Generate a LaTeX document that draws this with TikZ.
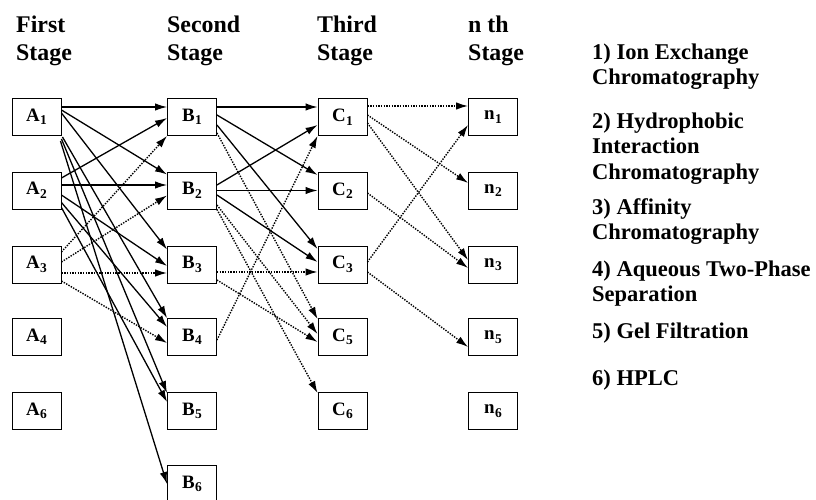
\documentclass[tikz,border=0pt]{standalone}
\usepackage{fontspec}
\setmainfont{Liberation Serif}
\usetikzlibrary{arrows.meta}
% box label: letter with a lowered index digit
\newcommand\stg[2]{#1\kern0.3bp\raisebox{-3.5bp}{\fontsize{13.5}{13.5}\selectfont #2}}

\begin{document}
\begin{tikzpicture}[x=1bp,y=-1bp,
  box/.style={draw, line width=0.9bp, minimum width=49bp, minimum height=37bp,
    inner sep=0pt, font=\fontsize{19}{19}\selectfont\bfseries},
  head/.style={anchor=base west, inner sep=0pt, font=\fontsize{24}{24}\selectfont\bfseries},
  note/.style={anchor=base west, inner sep=0pt, font=\fontsize{22.6}{22.6}\selectfont\bfseries},
  flow/.style={line width=1.3bp, -{Latex[length=12bp,width=7.5bp]}},
  dflow/.style={flow, line width=1.4bp, dash pattern=on 1.4bp off 1.3bp},
]
\useasboundingbox (0,0) rectangle (816,500);

% stage headings
\node[head] (h1a) at (16,33) {First};
\node[head] (h1b) at (16,61) {Stage};
\node[head] (h2a) at (167,33) {Second};
\node[head] (h2b) at (167,61) {Stage};
\node[head] (h3a) at (317,33) {Third};
\node[head] (h3b) at (317,61) {Stage};
\node[head] (h4a) at (468,33) {n th};
\node[head] (h4b) at (468,61) {Stage};

% first stage
\node[box] (A1) at (36.5,117) {\stg{A}{1}};
\node[box] (A2) at (36.5,190.5) {\stg{A}{2}};
\node[box] (A3) at (36.5,264.5) {\stg{A}{3}};
\node[box] (A4) at (36.5,337) {\stg{A}{4}};
\node[box] (A6) at (36.5,411) {\stg{A}{6}};
% second stage
\node[box] (B1) at (192,117) {\stg{B}{1}};
\node[box] (B2) at (192,190.5) {\stg{B}{2}};
\node[box] (B3) at (192,264.5) {\stg{B}{3}};
\node[box] (B4) at (192,337) {\stg{B}{4}};
\node[box] (B5) at (192,411) {\stg{B}{5}};
\node[box] (B6) at (192,484) {\stg{B}{6}};
% third stage
\node[box] (C1) at (342.5,117) {\stg{C}{1}};
\node[box] (C2) at (342.5,190.5) {\stg{C}{2}};
\node[box] (C3) at (342.5,264.5) {\stg{C}{3}};
\node[box] (C5) at (342.5,337) {\stg{C}{5}};
\node[box] (C6) at (342.5,411) {\stg{C}{6}};
% n-th stage
\node[box] (n1) at (493,117) {\stg{n}{1}};
\node[box] (n2) at (493,190.5) {\stg{n}{2}};
\node[box] (n3) at (493,264.5) {\stg{n}{3}};
\node[box] (n5) at (493,337) {\stg{n}{5}};
\node[box] (n6) at (493,411) {\stg{n}{6}};

% list of separation methods
\node[note] (m1a) at (592,60) {1) Ion Exchange};
\node[note] (m1b) at (592,85) {Chromatography};
\node[note] (m2a) at (592,129) {2) Hydrophobic};
\node[note] (m2b) at (592,154) {Interaction};
\node[note] (m2c) at (592,180) {Chromatography};
\node[note] (m3a) at (592,215) {3) Affinity};
\node[note] (m3b) at (592,240) {Chromatography};
\node[note] (m4a) at (592,277) {4) Aqueous Two-Phase};
\node[note] (m4b) at (592,302) {Separation};
\node[note] (m5) at (592,338) {5) Gel Filtration};
\node[note] (m6) at (592,385) {6) HPLC};

% first -> second stage
\draw[flow] ([yshift=10bp]A1.east) -- ([yshift=10bp]B1.west);
\draw[flow] ([yshift=7bp]A1.east) -- ([yshift=16bp]B2.west);
\draw[flow] ([yshift=4bp]A1.east) -- ([yshift=15bp]B3.west);
\draw[flow] ([xshift=1bp,yshift=-1bp]A1.south east) -- (B4.north west);
\draw[flow] ([xshift=0bp,yshift=-3bp]A1.south east) -- ([yshift=-1bp]B5.north west);
\draw[flow] ([xshift=-1bp,yshift=-5bp]A1.south east) -- (B6.west);
\draw[flow] ([yshift=12.5bp]A2.east) -- ([yshift=-1bp]B1.west);
\draw[flow] ([yshift=5.5bp]A2.east) -- ([yshift=5.5bp]B2.west);
\draw[flow] ([yshift=-4.5bp]A2.east) -- ([yshift=-1.5bp]B3.west);
\draw[flow] ([yshift=-12bp]A2.east) -- ([yshift=10bp]B4.west);
\draw[flow] ([yshift=-17bp]A2.east) -- ([yshift=9bp]B5.west);
\draw[dflow] ([yshift=12.5bp]A3.east) -- (B1.south west);
\draw[dflow] ([yshift=2.5bp]A3.east) -- ([yshift=-5bp]B2.west);
\draw[dflow] ([yshift=-8.5bp]A3.east) -- ([yshift=-8.5bp]B3.west);
\draw[dflow] ([yshift=-16.5bp]A3.east) -- ([yshift=-6bp]B4.west);

% second -> third stage
\draw[flow] ([yshift=10bp]B1.east) -- ([yshift=10bp]C1.west);
\draw[flow] ([yshift=2bp]B1.east) -- ([yshift=15.5bp]C2.west);
\draw[flow] ([yshift=-8bp]B1.east) -- ([yshift=15.5bp]C3.west);
\draw[dflow] ([yshift=-16bp]B1.east) -- ([yshift=-1bp]C5.north west);
\draw[flow] ([yshift=5.5bp]B2.east) -- ([yshift=-8bp]C1.west);
\draw[flow] (B2.east) -- (C2.west);
\draw[flow] ([yshift=-4.5bp]B2.east) -- ([yshift=2.5bp]C3.west);
\draw[dflow] ([yshift=-14.5bp]B2.east) -- ([yshift=3bp]C5.west);
\draw[dflow] (B2.south east) -- ([yshift=-1bp]C6.north west);
\draw[dflow] ([yshift=-7.5bp]B3.east) -- ([yshift=-7.5bp]C3.west);
\draw[dflow] ([yshift=-15.5bp]B3.east) -- ([yshift=-5bp]C5.west);
\draw[dflow] ([yshift=-3bp]B4.east) -- (C1.south west);

% third -> n-th stage
\draw[dflow] ([yshift=11bp]C1.east) -- ([yshift=11bp]n1.west);
\draw[dflow] ([yshift=2bp]C1.east) -- ([yshift=7.5bp]n2.west);
\draw[dflow] ([yshift=-6bp]C1.east) -- ([yshift=4.5bp]n3.west);
\draw[dflow] ([yshift=-2.5bp]C2.east) -- ([yshift=-3.5bp]n3.west);
\draw[dflow] ([yshift=2.5bp]C3.east) -- ([yshift=-8bp]n1.west);
\draw[dflow] ([yshift=-7.5bp]C3.east) -- ([yshift=-10bp]n5.west);
\end{tikzpicture}
\end{document}
